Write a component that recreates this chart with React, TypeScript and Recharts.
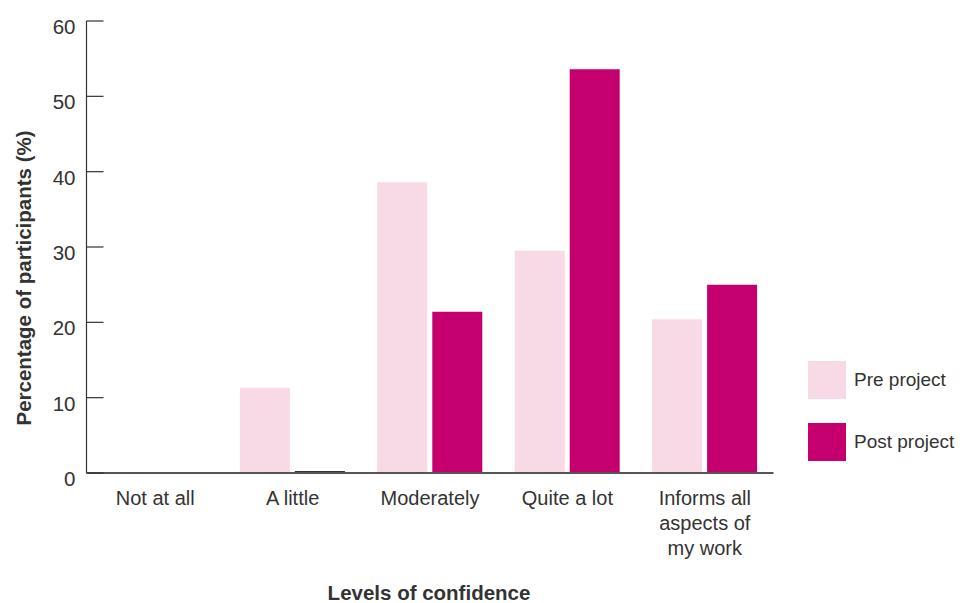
import React from 'react';
import { BarChart, Bar, XAxis, YAxis, Cell } from 'recharts';

const categories = ['Not at all', 'A little', 'Moderately', 'Quite a lot', 'Informs all aspects of my work'];
const tickLines: string[][] = [['Not at all'], ['A little'], ['Moderately'], ['Quite a lot'], ['Informs all', 'aspects of', 'my work']];
const preProject = [0, 11.3, 38.6, 29.5, 20.4];
const postProject = [0, 0.25, 21.4, 53.6, 25.0];
const yTicks = [0, 10, 20, 30, 40, 50, 60];
const legendItems = ['Pre project', 'Post project'];

const PRE = '#f8dae6';
const POST = '#c5006e';
const TEXT = '#333333';
const FONT = '"Liberation Sans", Arial, Helvetica, sans-serif';

const data = categories.map((name, i) => ({
    name,
    pre: preProject[i],
    post: postProject[i],
}));

const YTick = (props: any) => {
    const { x, y, payload } = props;
    return (
        <g>
            <line x1={x} y1={y} x2={x + 17} y2={y} stroke={TEXT} strokeWidth={1.2} />
            <text x={x - 11} y={y + 13} textAnchor="end" fill={TEXT} fontSize={20.5} fontFamily={FONT}>
                {payload.value}
            </text>
        </g>
    );
};

const XTick = (props: any) => {
    const { x, y, index } = props;
    const lines = tickLines[index] || [];
    return (
        <text x={x} y={y + 32} textAnchor="middle" fill={TEXT} fontSize={20} fontFamily={FONT}>
            {lines.map((l, i) => (
                <tspan key={i} x={x} dy={i === 0 ? 0 : 25}>{l}</tspan>
            ))}
        </text>
    );
};

export default function App() {
    return (
        <div style={{ position: 'relative', width: 950, height: 595 }}>
            <BarChart
                width={950}
                height={595}
                data={data}
                margin={{ top: 13, right: 184.5, left: 0, bottom: 0 }}
                barGap={5}
                barCategoryGap={16}
            >
                <YAxis
                    width={78.5}
                    domain={[0, 60]}
                    ticks={yTicks}
                    interval={0}
                    tickSize={0}
                    tickMargin={0}
                    tickLine={false}
                    axisLine={{ stroke: TEXT, strokeWidth: 1.2 }}
                    tick={<YTick />}
                    label={{
                        content: () => (
                            <text
                                x={15}
                                y={270}
                                transform="rotate(-90 15 270)"
                                textAnchor="middle"
                                dominantBaseline="central"
                                fill={TEXT}
                                fontSize={20.5}
                                fontWeight="bold"
                                fontFamily={FONT}
                            >
                                Percentage of participants (%)
                            </text>
                        ),
                    }}
                />
                <XAxis
                    dataKey="name"
                    height={130}
                    interval={0}
                    tickSize={0}
                    tickMargin={0}
                    tickLine={false}
                    axisLine={{ stroke: '#555555', strokeWidth: 2 }}
                    tick={<XTick />}
                    label={{
                        content: () => (
                            <text x={421} y={592} textAnchor="middle" fill={TEXT} fontSize={20.5} fontWeight="bold" fontFamily={FONT}>
                                Levels of confidence
                            </text>
                        ),
                    }}
                />
                <Bar dataKey="pre" name="Pre project" fill={PRE} isAnimationActive={false} />
                <Bar dataKey="post" name="Post project" fill={POST} isAnimationActive={false}>
                    {data.map((d, i) => (
                        <Cell key={i} fill={d.post < 1 ? TEXT : POST} />
                    ))}
                </Bar>
            </BarChart>
            <div style={{ position: 'absolute', left: 800, top: 353, fontFamily: FONT, fontSize: 19, color: TEXT, whiteSpace: 'nowrap' }}>
                {legendItems.map((label, i) => (
                    <div key={label} style={{ display: 'flex', alignItems: 'center', marginBottom: i === 0 ? 24 : 0 }}>
                        <div style={{ width: 38, height: 38, background: i === 0 ? PRE : POST, marginRight: 8 }} />
                        <span>{label}</span>
                    </div>
                ))}
            </div>
        </div>
    );
}
